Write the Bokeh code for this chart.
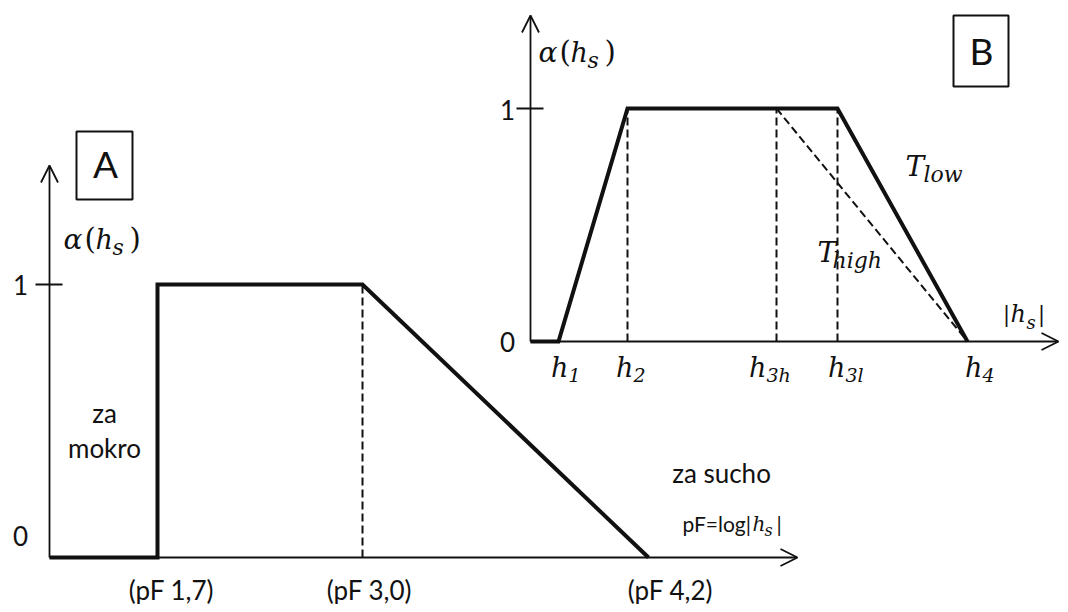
from bokeh.plotting import figure
from bokeh.models import Range1d, Arrow, OpenHead
from bokeh.core.properties import value
from bokeh.embed import file_html
from bokeh.resources import INLINE

# ---------------- data ----------------
# Panel A: schematic position along the pF axis (arbitrary units) and alpha(h_s)
A_POS = [0.0, 1.08, 1.08, 3.13, 5.99]
A_ALPHA = [0, 0, 1, 1, 0]
A_KNEE = [3.13]
A_MARK_POS = [1.08, 3.13, 5.99]
A_MARK_LABELS = ["(pF 1,7)", "(pF 3,0)", "(pF 4,2)"]
A_YTICKS = [0, 1]
A_YTICK_LABELS = ["0", "1"]

# Panel B: schematic |h_s| positions and alpha(h_s)
B_POS = [0.0, 0.28, 0.97, 3.07, 4.37]
B_ALPHA = [0, 0, 1, 1, 0]
B_H_POS = [0.28, 0.97, 2.46, 3.07, 4.37]
B_H_SUB = ["1", "2", "3h", "3l", "4"]
B_DASHED_POS = [0.97, 2.46, 3.07]
B_THIGH_POS = [2.46, 4.37]
B_THIGH_ALPHA = [1, 0]
B_YTICKS = [0, 1]
B_YTICK_LABELS = ["0", "1"]

# ---------------- layout ----------------
W, H = 1060, 604
OX, OY = 0, 0
INK = "#111111"
SANS = value("Lato")
MATH = value("DejaVu Serif")
BASE_FIX = 0.4  # em correction of the alphabetic baseline

# panel A frame: origin (49, 557) px, 100 px / unit, 273 px / alpha
A_O = (49, 557, 100.0, 273.0)
# panel B frame: origin (530, 341) px, 100 px / unit, 233 px / alpha
B_O = (530, 341, 100.0, 233.0)


def xr(o):
    return Range1d((OX - o[0]) / o[2], (OX + W - o[0]) / o[2])


def yr(o):
    return Range1d((o[1] - (OY + H)) / o[3], (o[1] - OY) / o[3])


def sx(o, px):
    return (px - o[0]) / o[2]


def sy(o, py):
    return (o[1] - py) / o[3]


p = figure(width=W, height=H, x_range=xr(A_O), y_range=yr(A_O),
           output_backend="svg", toolbar_location=None, min_border=0)
p.extra_x_ranges = {"bx": xr(B_O)}
p.extra_y_ranges = {"by": yr(B_O)}
p.xaxis.visible = False
p.yaxis.visible = False
p.grid.visible = False
p.outline_line_color = None
p.background_fill_color = "white"
p.border_fill_color = "white"

BR = dict(x_range_name="bx", y_range_name="by")


def txt(panel, x, y, s, size, font=SANS, style="normal", align="left",
        xo=0, yo=0):
    kw = BR if panel == "B" else {}
    p.text(x=[x], y=[y], text=[s], text_font=font, text_font_size=f"{size}px",
           text_font_style=style, text_align=align, text_baseline="alphabetic",
           text_color=INK, x_offset=xo, y_offset=yo - round(BASE_FIX * size),
           **kw)


def arrow(panel, x1, y1):
    kw = BR if panel == "B" else {}
    p.add_layout(Arrow(end=OpenHead(size=17, line_width=1.8, line_color=INK),
                       x_start=0, y_start=0, x_end=x1, y_end=y1,
                       line_width=1.8, line_color=INK, **kw))


def math_alpha(panel, o, left_px, base_px):
    x0 = sx(o, left_px)
    y0 = sy(o, base_px)
    txt(panel, x0, y0, "α", 28, MATH, "italic")
    txt(panel, x0, y0, "(", 29, MATH, "normal", xo=21)
    txt(panel, x0, y0, "h", 27, MATH, "italic", xo=32)
    txt(panel, x0, y0, "s", 22, MATH, "italic", xo=49, yo=6)
    txt(panel, x0, y0, ")", 29, MATH, "normal", xo=66)


# ================= Panel A =================
arrow("A", 0, sy(A_O, 165))
arrow("A", sx(A_O, 797), 0)
p.segment(x0=[sx(A_O, 35)], y0=[1], x1=[sx(A_O, 62)], y1=[1],
          line_color=INK, line_width=1.8)
p.segment(x0=A_KNEE, y0=[0], x1=A_KNEE, y1=[1], line_color=INK,
          line_width=2, line_dash="8 4")
p.line(A_POS, A_ALPHA, line_color=INK, line_width=4, line_join="miter")

# box A
p.quad(left=[sx(A_O, 76)], right=[sx(A_O, 132)], top=[sy(A_O, 131)],
       bottom=[sy(A_O, 199)], fill_color=None, line_color=INK, line_width=2)
txt("A", sx(A_O, 105), sy(A_O, 178), "A", 37, align="center")

# y tick labels
for v, lab, yo in zip(A_YTICKS, A_YTICK_LABELS, [-12, 10]):
    txt("A", sx(A_O, 20), v, lab, 26, align="center", yo=yo)

math_alpha("A", A_O, 63, 250)

# x markers
for pos, lab, xo in zip(A_MARK_POS, A_MARK_LABELS, [14, 7, 22]):
    txt("A", pos, 0, lab, 26, align="center", xo=xo, yo=42)

txt("A", sx(A_O, 104), sy(A_O, 422), "za", 26, align="center")
txt("A", sx(A_O, 104), sy(A_O, 457), "mokro", 26, align="center")
txt("A", sx(A_O, 721), sy(A_O, 482), "za sucho", 26, align="center")

# pF=log|h_s|
bx0 = sx(A_O, 682)
by0 = sy(A_O, 531)
txt("A", bx0, by0, "pF=log|", 21)
txt("A", bx0, by0, "h", 20, MATH, "italic", xo=70)
txt("A", bx0, by0, "s", 16, MATH, "italic", xo=82, yo=5)
txt("A", bx0, by0, "|", 21, xo=94)

# ================= Panel B =================
arrow("B", 0, sy(B_O, 15))
arrow("B", sx(B_O, 1058), 0)
p.segment(x0=[sx(B_O, 516)], y0=[1], x1=[sx(B_O, 543)], y1=[1],
          line_color=INK, line_width=1.8, **BR)
p.segment(x0=B_DASHED_POS, y0=[0] * len(B_DASHED_POS), x1=B_DASHED_POS,
          y1=[1] * len(B_DASHED_POS), line_color=INK, line_width=2,
          line_dash="8 4", **BR)
p.line(B_THIGH_POS, B_THIGH_ALPHA, line_color=INK, line_width=2,
       line_dash="8 4", **BR)
p.line(B_POS, B_ALPHA, line_color=INK, line_width=4, line_join="miter", **BR)

# box B
p.quad(left=[sx(B_O, 953)], right=[sx(B_O, 1008)], top=[sy(B_O, 15)],
       bottom=[sy(B_O, 86)], fill_color=None, line_color=INK, line_width=2,
       **BR)
txt("B", sx(B_O, 981), sy(B_O, 65), "B", 37, align="center")

for v, lab, yo in zip(B_YTICKS, B_YTICK_LABELS, [10, 11]):
    txt("B", sx(B_O, 507), v, lab, 26, align="center", yo=yo)

math_alpha("B", B_O, 538, 63)

# h labels
for pos, sub, xo in zip(B_H_POS, B_H_SUB, [10, 6, -10, 8, 15]):
    txt("B", pos, 0, "h", 27, MATH, "italic", align="right", xo=xo, yo=37)
    txt("B", pos, 0, sub, 19, MATH, "italic", align="left", xo=xo, yo=41)

# |h_s|
hx0 = sx(B_O, 1003)
hy0 = sy(B_O, 323)
txt("B", hx0, hy0, "|", 24)
txt("B", hx0, hy0, "h", 24, MATH, "italic", xo=7)
txt("B", hx0, hy0, "s", 18, MATH, "italic", xo=23, yo=6)
txt("B", hx0, hy0, "|", 24, xo=35)

# T_low / T_high
txt("B", sx(B_O, 905), sy(B_O, 177), "T", 28, MATH, "italic")
txt("B", sx(B_O, 905), sy(B_O, 177), "low", 22, MATH, "italic", xo=18, yo=6)
txt("B", sx(B_O, 817), sy(B_O, 263), "T", 28, MATH, "italic")
txt("B", sx(B_O, 817), sy(B_O, 263), "high", 22, MATH, "italic", xo=15, yo=6)

open("out.html", "w").write(file_html(p, INLINE))
